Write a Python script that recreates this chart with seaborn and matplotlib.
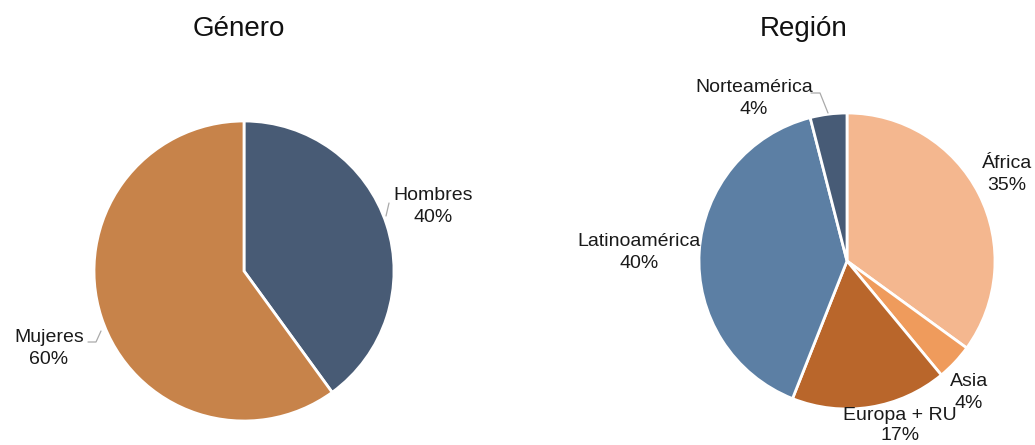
import matplotlib
matplotlib.use("Agg")
import matplotlib.pyplot as plt
import seaborn as sns

sns.set_theme(style="white")
plt.rcParams["font.family"] = ["Liberation Sans", "DejaVu Sans"]

# Data
gender_labels = ["Hombres", "Mujeres"]
gender_values = [40, 60]
region_labels = ["África", "Asia", "Europa + RU", "Latinoamérica", "Norteamérica"]
region_values = [35, 4, 17, 40, 4]

gender_colors = sns.color_palette(["#485b75", "#c7834a"])
region_colors = sns.color_palette(["#f4b78f", "#ef9b5c", "#b9662b", "#5c7fa4", "#475b76"])

W, H = 1035, 445
fig = plt.figure(figsize=(W / 100, H / 100), dpi=100)
ax = fig.add_axes([0, 0, 1, 1])


def P(x, y):
    """Pixel position (origin top-left) to data coordinates."""
    return x, H - y


def draw_pie(values, colors, center, radius):
    ax.pie(values, colors=colors, startangle=90, counterclock=False,
           center=P(*center), radius=radius,
           wedgeprops=dict(edgecolor="white", linewidth=2))


draw_pie(gender_values, gender_colors, (244, 271), 150)
draw_pie(region_values, region_colors, (847, 261), 148)

ax.set_xlim(0, W)
ax.set_ylim(0, H)
ax.set_aspect("equal")
ax.axis("off")

# Titles
ax.text(*P(239, 29), "Género", ha="center", va="center", fontsize=20, color="#111111")
ax.text(*P(804, 29), "Región", ha="center", va="center", fontsize=20, color="#111111")

# Slice labels: name on the first line, share on the second
label_pos = {
    "Hombres": (433, 196),
    "Mujeres": (49, 338),
    "África": (1007, 164),
    "Asia": (969, 382),
    "Europa + RU": (900, 415),
    "Latinoamérica": (639, 242),
    "Norteamérica": (754, 88),
}
for names, vals in ((gender_labels, gender_values), (region_labels, region_values)):
    for name, v in zip(names, vals):
        x, y = label_pos[name]
        ax.text(*P(x, y), name, ha="center", va="center", fontsize=14, color="#1a1a1a")
        ax.text(*P(x, y + 21), f"{v}%", ha="center", va="center", fontsize=14, color="#1a1a1a")

# Leader lines
leaders = [
    [(88, 342), (96, 342), (101, 331)],
    [(389, 203), (386, 216)],
    [(811, 93), (820, 93), (828, 113)],
]
for pts in leaders:
    xs = [P(*p)[0] for p in pts]
    ys = [P(*p)[1] for p in pts]
    ax.plot(xs, ys, color="#aaaaaa", linewidth=0.9)

fig.savefig("out.png", dpi=100, facecolor="white")
